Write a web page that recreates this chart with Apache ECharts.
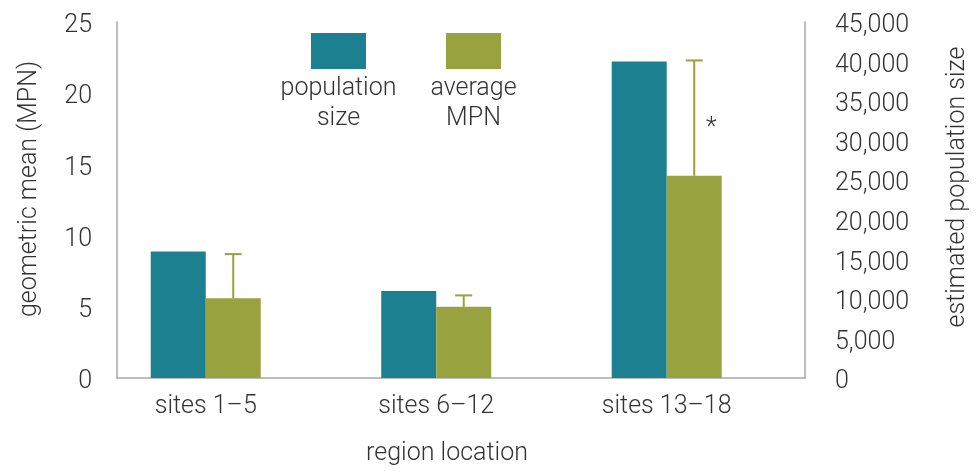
<!DOCTYPE html>
<html>
<head>
<meta charset="utf-8">
<script src="https://cdn.jsdelivr.net/npm/echarts@6/dist/echarts.min.js"></script>
<style>
  html, body { margin: 0; padding: 0; background: #ffffff; }
  #chart { width: 978px; height: 471px; }
</style>
</head>
<body>
<div id="chart"></div>
<script>
// Regions along the x axis
const categories = ['sites 1–5', 'sites 6–12', 'sites 13–18'];
// Estimated population size (right axis)
const populationSize = [16000, 11000, 40000];
// Geometric mean MPN (left axis) and upper end of its error bar
const averageMPN = [5.6, 5.0, 14.2];
const mpnUpper = [8.7, 5.8, 22.3];
// Significance markers beside the error bars
const significance = ['', '', '*'];
// Series / legend names
const seriesNames = ['population size', 'average MPN'];
const legendLabels = ['population\nsize', 'average\nMPN'];

const TEAL = '#1c8090';
const OLIVE = '#98a23e';
const TEXT = '#333333';
const AXIS = '#a8a8a8';
const FONT = 'Roboto, "Liberation Sans", Arial, sans-serif';
const FS = 25;
const BAR_W = 55;

const chart = echarts.init(document.getElementById('chart'), null, { renderer: 'canvas' });

const textBase = { color: TEXT, fontFamily: FONT, fontSize: FS, fontWeight: 300 };

function errorBar(params, api) {
  const x = api.value(0);
  const mean = api.value(1);
  const upper = api.value(2);
  const base = api.coord([x, mean]);
  const top = api.coord([x, upper]);
  const cx = base[0] + BAR_W / 2;
  const line = { stroke: OLIVE, lineWidth: 2 };
  const children = [
    { type: 'line', shape: { x1: cx, y1: base[1], x2: cx, y2: top[1] }, style: line },
    { type: 'line', shape: { x1: cx - 8.5, y1: top[1], x2: cx + 8.5, y2: top[1] }, style: line }
  ];
  const mark = significance[params.dataIndex];
  if (mark) {
    children.push({
      type: 'text',
      style: Object.assign({}, textBase, {
        text: mark, x: cx + 17, y: (base[1] + top[1]) / 2 + 11,
        align: 'center', verticalAlign: 'middle', fill: TEXT
      })
    });
  }
  return { type: 'group', children };
}

const legendCommon = {
  top: 33, padding: 0, itemWidth: 55, itemHeight: 36, icon: 'rect',
  selectedMode: false, formatter: () => ''
};

// tick labels sit a little below their tick value
const tickLabel = { verticalAlign: 'top', lineHeight: 8 };

const option = {
  animation: false,
  backgroundColor: '#ffffff',
  textStyle: textBase,
  grid: { left: 117, right: 170, top: 22, bottom: 91.5 },
  legend: [
    Object.assign({ left: 311, data: [seriesNames[0]] }, legendCommon),
    Object.assign({ left: 446, data: [seriesNames[1]] }, legendCommon)
  ],
  graphic: legendLabels.map((label, i) => ({
    type: 'text',
    x: i === 0 ? 338.5 : 473.5,
    y: 104,
    style: Object.assign({}, textBase, {
      text: label, fill: TEXT, align: 'center', verticalAlign: 'middle', lineHeight: 30
    })
  })),
  xAxis: {
    type: 'value',
    min: -0.385,
    max: 2.6,
    name: 'region location',
    nameLocation: 'middle',
    nameGap: 63,
    nameTextStyle: Object.assign({}, textBase, { padding: [0, 28, 0, 0] }),
    axisLine: { show: true, onZero: false, lineStyle: { color: AXIS, width: 1.5 } },
    axisTick: { show: false },
    splitLine: { show: false },
    axisLabel: Object.assign({}, textBase, {
      customValues: [0, 1, 2],
      margin: 16,
      formatter: v => categories[Math.round(v)] || ''
    })
  },
  yAxis: [
    {
      type: 'value',
      min: 0, max: 25, interval: 5,
      name: 'geometric mean (MPN)',
      nameLocation: 'middle',
      nameGap: 75,
      nameTextStyle: Object.assign({}, textBase, { padding: [0, 0, 0, 22] }),
      axisLine: { show: true, onZero: false, lineStyle: { color: AXIS, width: 1.5 } },
      axisTick: { show: false },
      splitLine: { show: false },
      axisLabel: Object.assign({}, textBase, tickLabel, { margin: 25 })
    },
    {
      type: 'value',
      min: 0, max: 45000, interval: 5000,
      position: 'right',
      name: 'estimated population size',
      nameLocation: 'middle',
      nameGap: 140,
      nameRotate: 90,
      nameTextStyle: Object.assign({}, textBase, { padding: [0, 0, 0, 26] }),
      axisLine: { show: true, onZero: false, lineStyle: { color: AXIS, width: 1.5 } },
      axisTick: { show: false },
      splitLine: { show: false },
      axisLabel: Object.assign({}, textBase, tickLabel, {
        margin: 30,
        formatter: v => v.toLocaleString('en-US')
      })
    }
  ],
  series: [
    {
      name: seriesNames[0],
      type: 'bar',
      yAxisIndex: 1,
      barWidth: BAR_W,
      barGap: '0%',
      itemStyle: { color: TEAL },
      data: populationSize.map((v, i) => [i, v])
    },
    {
      name: seriesNames[1],
      type: 'bar',
      yAxisIndex: 0,
      barWidth: BAR_W,
      barGap: '0%',
      itemStyle: { color: OLIVE },
      data: averageMPN.map((v, i) => [i, v])
    },
    {
      name: 'error',
      type: 'custom',
      yAxisIndex: 0,
      renderItem: errorBar,
      silent: true,
      z: 3,
      data: averageMPN.map((v, i) => [i, v, mpnUpper[i]])
    }
  ]
};

chart.setOption(option);
</script>
</body>
</html>
